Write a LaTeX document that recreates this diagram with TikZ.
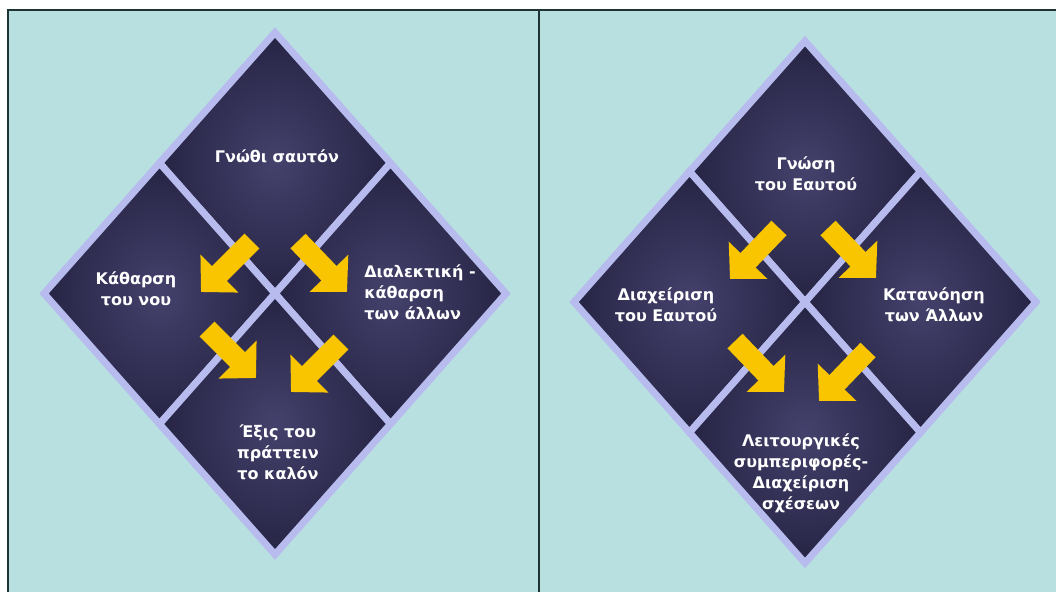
\documentclass[tikz,border=0pt]{standalone}
\usepackage{fontspec}
\newfontfamily\greekfont{DejaVu Sans}
\usetikzlibrary{
  arrows.meta,
  positioning,
  shapes.geometric,
}
\definecolor{seafoam}{RGB}{185, 224, 225}
\definecolor{framegray}{RGB}{30, 51, 51}
\definecolor{lavender}{RGB}{183, 187, 238}
\definecolor{navydeep}{RGB}{38, 36, 68}
\definecolor{navylight}{RGB}{68, 65, 108}
\definecolor{sunyellow}{RGB}{249, 197, 0}
\tikzstyle{petal} = [
  diamond,
  minimum width=231pt,
  minimum height=261pt,
  inner sep=0pt,
  outer sep=0pt,
  draw=lavender,
  line width=7pt,
  inner color=navylight,
  outer color=navydeep,
]
\tikzstyle{flow} = [
  -{Triangle[length=26pt,width=52pt]},
  line width=21pt,
  sunyellow,
]
\tikzstyle{caption} = [
  text=white,
  font=\greekfont\bfseries\fontsize{16}{21}\selectfont,
  align=center,
  inner sep=0pt,
]

\begin{document}
\begin{tikzpicture}[x=1pt,y=-1pt]

        \useasboundingbox (0,0) rectangle (1056,592);
        \fill[seafoam] (8,10) rectangle (1056,592);
        \draw[framegray,line width=2pt] (8,592) -- (8,10) -- (1056,10);
        \draw[framegray,line width=2.5pt] (539,10) -- (539,592);

        \node[petal] (k1t) at (275,163) {};
        \node[petal] (k1l) at (k1t.west |- k1t.south) {};
        \node[petal] (k1r) at (k1t.east |- k1t.south) {};
        \node[petal] (k1b) at (k1t.south |- k1l.south) {};

        \node[petal] (k2t) at (805,171.5) {};
        \node[petal] (k2l) at (k2t.west |- k2t.south) {};
        \node[petal] (k2r) at (k2t.east |- k2t.south) {};
        \node[petal] (k2b) at (k2t.south |- k2l.south) {};

        \coordinate (a1s) at (252,241);
        \coordinate (a1e) at (201,292);
        \coordinate (a2s) at (298,241);
        \coordinate (a2e) at (347,292);
        \coordinate (a3s) at (207,329);
        \coordinate (a3e) at (256,378);
        \coordinate (a4s) at (341,342);
        \coordinate (a4e) at (291,392);

        \coordinate (b1s) at (779,228);
        \coordinate (b1e) at (730,279);
        \coordinate (b2s) at (828,228);
        \coordinate (b2e) at (876,278);
        \coordinate (b3s) at (735,341);
        \coordinate (b3e) at (784,392);
        \coordinate (b4s) at (868,350);
        \coordinate (b4e) at (819,401);

        \draw[flow] (a1s) -- (a1e);
        \draw[flow] (a2s) -- (a2e);
        \draw[flow] (a3s) -- (a3e);
        \draw[flow] (a4s) -- (a4e);
        \draw[flow] (b1s) -- (b1e);
        \draw[flow] (b2s) -- (b2e);
        \draw[flow] (b3s) -- (b3e);
        \draw[flow] (b4s) -- (b4e);

        \node[caption] (gnothi) at (277,156) {Γνώθι σαυτόν};
        \node[caption] (katharsi) at (136,289) {Κάθαρση\\του νου};
        \node[caption,align=left] (dialektiki) at (420,292) {Διαλεκτική -\\κάθαρση\\των άλλων};
        \node[caption] (exis) at (278,452) {Έξις του\\πράττειν\\το καλόν};

        \node[caption] (gnosi) at (806,174) {Γνώση\\του Εαυτού};
        \node[caption] (diaxeirisi) at (666,305) {Διαχείριση\\του Εαυτού};
        \node[caption] (katanoisi) at (934,305) {Κατανόηση\\των Άλλων};
        \node[caption] (leitourgikes) at (801,473) {Λειτουργικές\\συμπεριφορές-\\Διαχείριση\\σχέσεων};

\end{tikzpicture}
\end{document}
